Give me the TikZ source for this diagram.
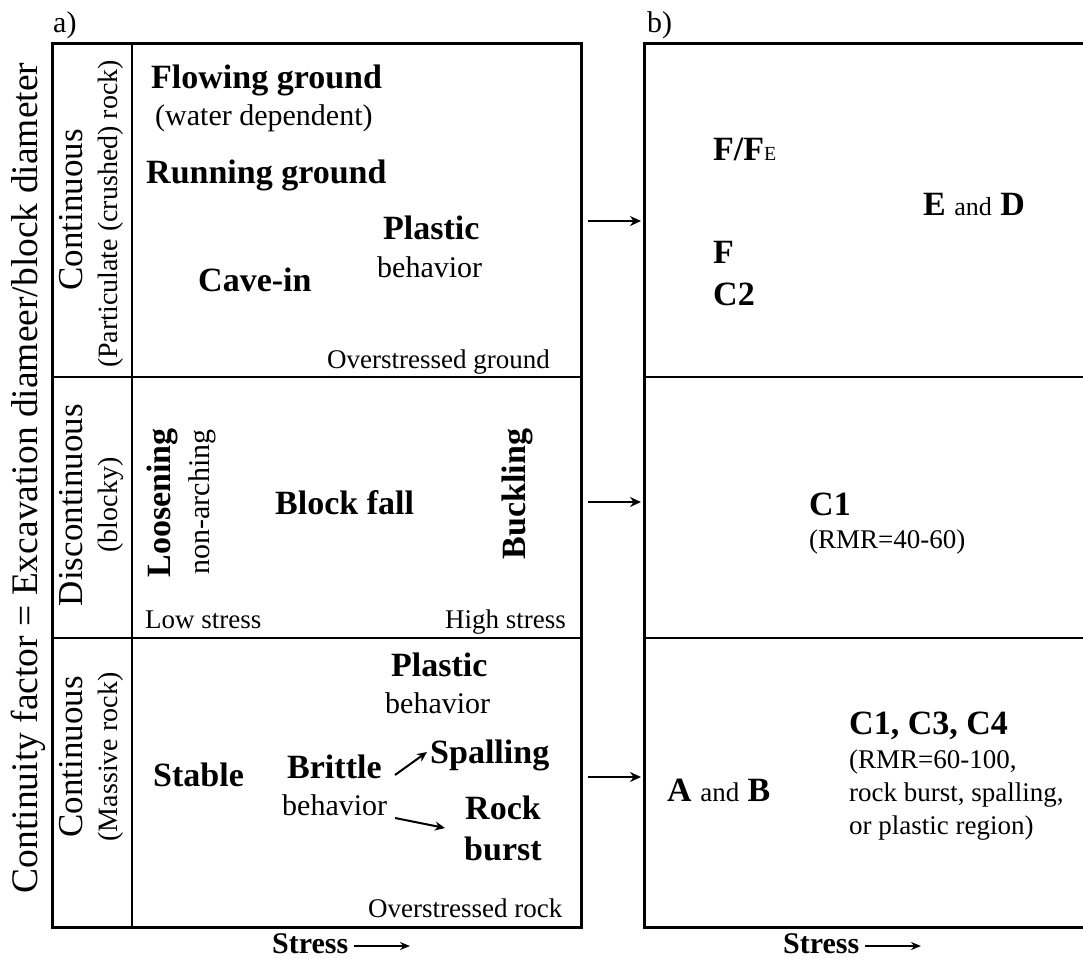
\documentclass[tikz,border=0pt]{standalone}
\usepackage{fontspec}
\setmainfont{Liberation Serif}
\usetikzlibrary{arrows.meta}
\begin{document}
\begin{tikzpicture}[x=1pt,y=-1pt,
  frame/.style={line width=3pt},
  divider/.style={line width=2pt},
  bigb/.style={font=\fontsize{34}{40}\selectfont\bfseries, inner sep=0pt, anchor=base west},
  midr/.style={font=\fontsize{30}{36}\selectfont, inner sep=0pt, anchor=base west},
  smr/.style={font=\fontsize{27}{33}\selectfont, inner sep=0pt, anchor=base west},
  rotbig/.style={font=\fontsize{34}{40}\selectfont\bfseries, inner sep=0pt, anchor=base, rotate=90},
  rotmid/.style={font=\fontsize{30}{36}\selectfont, inner sep=0pt, anchor=base, rotate=90},
  rowhead/.style={font=\fontsize{35}{40}\selectfont, inner sep=0pt, anchor=base, rotate=90},
  rowsub/.style={font=\fontsize{28}{32}\selectfont, inner sep=0pt, anchor=base, rotate=90},
  panelarr/.style={line width=2.2pt, -{Stealth[length=11pt,width=10pt]}},
  smallarr/.style={line width=2pt, -{Stealth[length=10pt,width=9pt]}},
  stressarr/.style={line width=1.8pt, -{Stealth[length=10pt,width=8pt]}}]
\useasboundingbox (0,0) rectangle (1083,958);

% ---------- panel a frame ----------
\draw[frame] (52,44) rectangle (581,927);
\draw[divider] (132,44) -- (132,927);
\draw[divider] (52,377) -- (581,377);
\draw[divider] (52,638) -- (581,638);

% ---------- panel b frame (open on the right) ----------
\draw[frame] (1090,44) -- (644,44) -- (644,927) -- (1090,927);
\draw[divider] (644,377) -- (1090,377);
\draw[divider] (644,638) -- (1090,638);

% ---------- panel labels ----------
\node[midr] (la) at (53,33) {a)};
\node[midr] (lb) at (647,33) {b)};

% ---------- axis label and row headings ----------
\node[font=\fontsize{37.5}{40}\selectfont, inner sep=0pt, anchor=base, rotate=90] (axis) at (37,478) {Continuity factor = Excavation diameer/block diameter};
\node[rowhead] (r1a) at (82,210) {Continuous};
\node[rowsub] (r1b) at (117,214) {(Particulate (crushed) rock)};
\node[rowhead] (r2a) at (82,505) {Discontinuous};
\node[rowsub] (r2b) at (117,505) {(blocky)};
\node[rowhead] (r3a) at (82,757) {Continuous};
\node[rowsub] (r3b) at (117,757) {(Massive rock)};

% ---------- panel a, row 1 ----------
\node[bigb] (flow) at (151,88) {Flowing ground};
\node[midr] (water) at (155,125) {(water dependent)};
\node[bigb] (run) at (146,183) {Running ground};
\node[bigb] (plast1) at (383,239) {Plastic};
\node[midr] (beh1) at (377,277) {behavior};
\node[bigb] (cave) at (198,291) {Cave-in};
\node[smr] (overg) at (327,368) {Overstressed ground};

% ---------- panel a, row 2 ----------
\node[rotbig] (loos) at (170,503) {Loosening};
\node[rotmid] (nonarch) at (209,502) {non-arching};
\node[bigb] (block) at (275,514) {Block fall};
\node[rotbig] (buck) at (525,494) {Buckling};
\node[smr] (low) at (145,628) {Low stress};
\node[smr] (high) at (445,628) {High stress};

% ---------- panel a, row 3 ----------
\node[bigb] (plast3) at (391,676) {Plastic};
\node[midr] (beh3) at (385,713) {behavior};
\node[bigb] (stable) at (153,786) {Stable};
\node[bigb] (brittle) at (287,778) {Brittle};
\node[midr] (beh4) at (282,815) {behavior};
\node[bigb] (spall) at (430,763) {Spalling};
\node[bigb] (rock) at (465,819) {Rock};
\node[bigb] (burst) at (464,860) {burst};
\node[smr] (overr) at (368,917) {Overstressed rock};

\coordinate (bsA) at (395,775);
\coordinate (bsB) at (427,752);
\coordinate (brA) at (395,818);
\coordinate (brB) at (445,828);
\draw[smallarr] (bsA) -- (bsB);
\draw[smallarr] (brA) -- (brB);

% ---------- stress axes ----------
\node[font=\fontsize{30}{36}\selectfont\bfseries, inner sep=0pt, anchor=base west] (stressL) at (272,953) {Stress};
\coordinate (sLa) at (354,946);
\coordinate (sLb) at (410,946);
\draw[stressarr] (sLa) -- (sLb);
\node[font=\fontsize{30}{36}\selectfont\bfseries, inner sep=0pt, anchor=base west] (stressR) at (783,953) {Stress};
\coordinate (sRa) at (865,946);
\coordinate (sRb) at (921,946);
\draw[stressarr] (sRa) -- (sRb);

% ---------- connecting arrows ----------
\coordinate (a1) at (588,221);
\coordinate (b1) at (641,221);
\coordinate (a2) at (588,502);
\coordinate (b2) at (641,502);
\coordinate (a3) at (588,777);
\coordinate (b3) at (641,777);
\draw[panelarr] (a1) -- (b1);
\draw[panelarr] (a2) -- (b2);
\draw[panelarr] (a3) -- (b3);

% ---------- panel b texts ----------
\node[bigb] (ffe) at (713,160) {F/F{\fontsize{20}{22}\selectfont\mdseries E}};
\node[bigb] (ed) at (923,215) {E {\fontsize{26}{30}\selectfont\mdseries and} D};
\node[bigb] (f) at (713,263) {F};
\node[bigb] (c2) at (713,305) {C2};
\node[bigb] (c1) at (809,515) {C1};
\node[smr] (rmr1) at (809,548) {(RMR=40-60)};
\node[bigb] (c134) at (849,734) {C1, C3, C4};
\node[smr] (rmr2) at (849,768) {(RMR=60-100,};
\node[smr] (rmr3) at (849,801) {rock burst, spalling,};
\node[smr] (rmr4) at (849,834) {or plastic region)};
\node[bigb] (ab) at (667,801) {A {\fontsize{27}{30}\selectfont\mdseries and} B};
\end{tikzpicture}
\end{document}
